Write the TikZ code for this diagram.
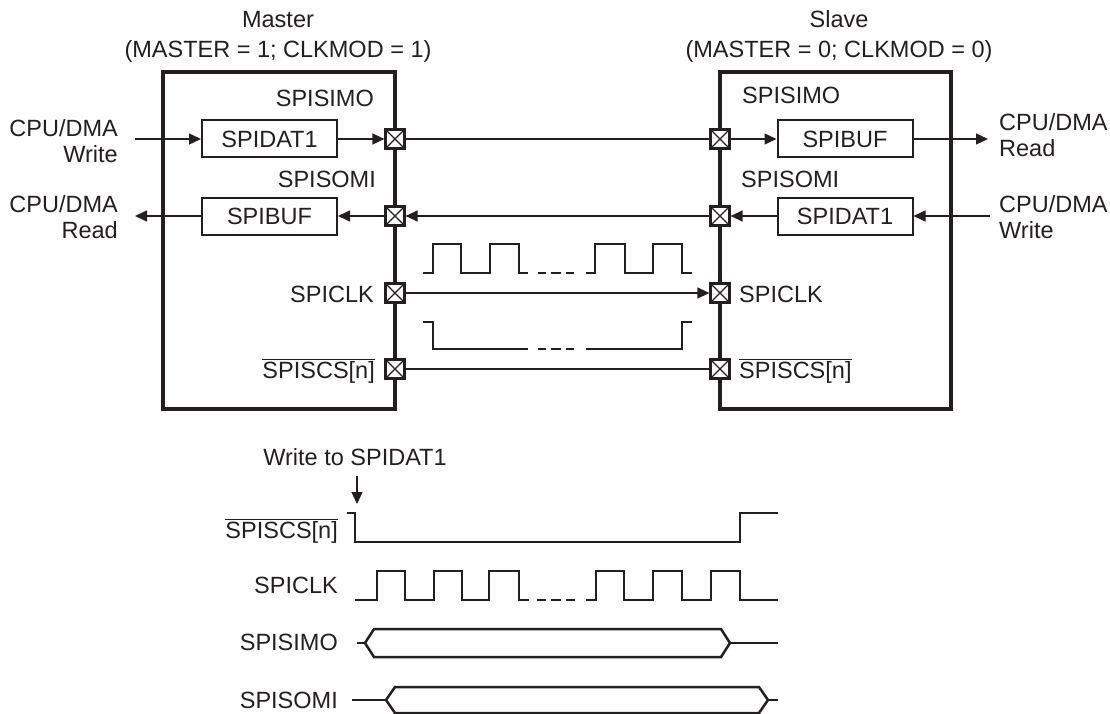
\documentclass[tikz,border=0pt]{standalone}
\usepackage{fontspec}
\setmainfont{Liberation Sans}
\usetikzlibrary{arrows.meta}
\definecolor{ink}{HTML}{231F20}
\begin{document}
\begin{tikzpicture}[x=1pt,y=-1pt,
  font=\fontsize{23.5}{27}\selectfont,
  outer/.style={draw=ink, line width=4pt, inner sep=0, outer sep=0},
  reg/.style={draw=ink, line width=2pt, minimum width=135pt, minimum height=37pt, inner sep=0, text=ink},
  port/.style={draw=ink, fill=white, line width=2.2pt, minimum size=19pt, inner sep=0,
    path picture={\draw[ink, line width=1.1pt]
      (path picture bounding box.north west) -- (path picture bounding box.south east)
      (path picture bounding box.north east) -- (path picture bounding box.south west);}},
  wire/.style={draw=ink, line width=1.3pt},
  arr/.style={wire, -{Triangle[length=12pt,width=11pt]}},
  wave/.style={draw=ink, line width=2.5pt, line join=miter},
  lbl/.style={text=ink, inner sep=0}]
\useasboundingbox (0,0) rectangle (1110,714);
\clip (0,0) rectangle (1110,714);

% titles
\node[lbl, anchor=base] (mt1) at (278,28) {Master};
\node[lbl, anchor=base] (mt2) at (278,58) {(MASTER = 1; CLKMOD = 1)};
\node[lbl, anchor=base] (st1) at (839,28) {Slave};
\node[lbl, anchor=base] (st2) at (839,58) {(MASTER = 0; CLKMOD = 0)};

% outer boxes
\node[outer, minimum width=232pt, minimum height=337pt] (master) at (279,240.5) {};
\node[outer, minimum width=231pt, minimum height=337pt] (slave) at (835.5,240.5) {};

% registers
\node[reg] (mdat) at (269.5,139) {SPIDAT1};
\node[reg] (mbuf) at (269.5,216) {SPIBUF};
\node[reg] (sbuf) at (845,139) {SPIBUF};
\node[reg] (sdat) at (845,216) {SPIDAT1};

% port positions
\coordinate (pm1) at (395,139); \coordinate (pm2) at (395,216);
\coordinate (pm3) at (395,293); \coordinate (pm4) at (395,369);
\coordinate (ps1) at (720,139); \coordinate (ps2) at (720,216);
\coordinate (ps3) at (720,293); \coordinate (ps4) at (720,369);

% ports
\node[port] (mp1) at (pm1) {};
\node[port] (mp2) at (pm2) {};
\node[port] (mp3) at (pm3) {};
\node[port] (mp4) at (pm4) {};
\node[port] (sp1) at (ps1) {};
\node[port] (sp2) at (ps2) {};
\node[port] (sp3) at (ps3) {};
\node[port] (sp4) at (ps4) {};

% free ends
\coordinate (cwl) at (135,139);
\coordinate (crl) at (135,216);
\coordinate (crr) at (988,139);
\coordinate (cwr) at (990,216);

% connectors
\draw[arr] (cwl) -- (mdat.west);
\draw[arr] (mdat.east) -- (mp1.west);
\draw[wire] (mp1.east) -- (sp1.west);
\draw[arr] (sp1.east) -- (sbuf.west);
\draw[arr] (sbuf.east) -- (crr);
\draw[arr] (cwr) -- (sdat.east);
\draw[arr] (sdat.west) -- (sp2.east);
\draw[arr] (sp2.west) -- (mp2.east);
\draw[arr] (mp2.west) -- (mbuf.east);
\draw[arr] (mbuf.west) -- (crl);
\draw[arr] (mp3.east) -- (sp3.west);
\draw[wire] (mp4.east) -- (sp4.west);

% CPU/DMA labels
\node[lbl, anchor=base east] (lw1) at (118,137) {CPU/DMA};
\node[lbl, anchor=base east] (lw2) at (118,163) {Write};
\node[lbl, anchor=base east] (lr1) at (118,212) {CPU/DMA};
\node[lbl, anchor=base east] (lr2) at (118,238) {Read};
\node[lbl, anchor=base west] (rr1) at (999,131) {CPU/DMA};
\node[lbl, anchor=base west] (rr2) at (999,157) {Read};
\node[lbl, anchor=base west] (rw1) at (999,212) {CPU/DMA};
\node[lbl, anchor=base west] (rw2) at (999,238) {Write};

% port labels
\node[lbl, anchor=base east] (msimo) at (374,107) {SPISIMO};
\node[lbl, anchor=base east] (msomi) at (376,188) {SPISOMI};
\node[lbl, anchor=base east] (mclk) at (374,302) {SPICLK};
\node[lbl, anchor=base east] (mcs) at (375,378) {$\overline{\hbox{SPISCS[n]}}$};
\node[lbl, anchor=base west] (ssimo) at (742,104) {SPISIMO};
\node[lbl, anchor=base west] (ssomi) at (741,188) {SPISOMI};
\node[lbl, anchor=base west] (sclk) at (739,302) {SPICLK};
\node[lbl, anchor=base west] (scs) at (739,378) {$\overline{\hbox{SPISCS[n]}}$};

% middle waveforms
\draw[wave] (423,273) -- (433,273) -- (433,244) -- (461,244) -- (461,273) -- (490,273)
  -- (490,244) -- (519,244) -- (519,273) -- (528,273);
\draw[wave] (538,273) -- (546,273) (551,273) -- (561,273) (566,273) -- (574,273);
\draw[wave] (586,273) -- (595,273) -- (595,244) -- (625,244) -- (625,273) -- (653,273)
  -- (653,244) -- (682,244) -- (682,273) -- (692,273);
\draw[wave] (423,322) -- (433,322) -- (433,349) -- (528,349);
\draw[wave] (538,349) -- (546,349) (551,349) -- (561,349) (566,349) -- (574,349);
\draw[wave] (586,349) -- (682,349) -- (682,322) -- (692,322);

% timing diagram
\node[lbl, anchor=base] (wtxt) at (355,465) {Write to SPIDAT1};
\coordinate (wstart) at (357,476);
\coordinate (wtip) at (357,504);
\draw[arr] (wstart) -- (wtip);

\node[lbl, anchor=base east] (tcs) at (338,538) {$\overline{\hbox{SPISCS[n]}}$};
\node[lbl, anchor=base east] (tclk) at (338,593) {SPICLK};
\node[lbl, anchor=base east] (tsimo) at (338,650) {SPISIMO};
\node[lbl, anchor=base east] (tsomi) at (338,708) {SPISOMI};

\draw[wave] (347,513) -- (355,513) -- (355,542) -- (740,542) -- (740,513) -- (778,513);

\draw[wave] (355,600) -- (377,600) -- (377,571) -- (405,571) -- (405,600) -- (434,600)
  -- (434,571) -- (462,571) -- (462,600) -- (489,600) -- (489,571) -- (519,571)
  -- (519,600) -- (529,600);
\draw[wave] (537,600) -- (546,600) (551,600) -- (561,600) (566,600) -- (575,600);
\draw[wave] (586,600) -- (596,600) -- (596,571) -- (624,571) -- (624,600) -- (653,600)
  -- (653,571) -- (682,571) -- (682,600) -- (711,600) -- (711,571) -- (740,571)
  -- (740,600) -- (778,600);

\draw[wave] (357,643) -- (365,643);
\draw[wave] (365,643) -- (374,629) -- (721,629) -- (730,643) -- (721,657) -- (374,657) -- cycle;
\draw[wave] (730,643) -- (778,643);

\draw[wave] (352,700) -- (386,700);
\draw[wave] (386,700) -- (395,687) -- (759,687) -- (768,700) -- (759,713) -- (395,713) -- cycle;
\draw[wave] (768,700) -- (778,700);
\end{tikzpicture}
\end{document}
